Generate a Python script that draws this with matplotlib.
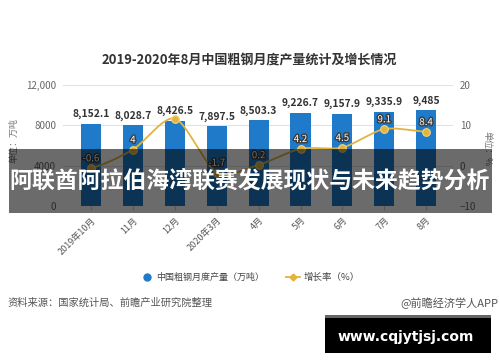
import numpy as np
import matplotlib
matplotlib.use("Agg")
import matplotlib.pyplot as plt
import matplotlib.patheffects as pe
from matplotlib.patches import Rectangle
from matplotlib.lines import Line2D

plt.rcParams['font.family'] = ['Noto Sans CJK SC', 'DejaVu Sans']

# 数据
months = ["2019年10月", "11月", "12月", "2020年3月", "4月", "5月", "6月", "7月", "8月"]
output = [8152.1, 8028.7, 8426.5, 7897.5, 8503.3, 9226.7, 9157.9, 9335.9, 9485]
growth = [-0.6, 4, 11.7, -1.7, 0.2, 4.2, 4.5, 9.1, 8.4]
# label of the 3rd point is covered by the bar label in the original
growth_shown = [True, True, False, True, True, True, True, True, True]

left_ticks = [0, 4000, 8000, 12000]
left_ticklabels = ["0", "4000", "8000", "12,000"]
right_ticks = [-10, 0, 10, 20]

bar_color = "#1f7bc9"
line_color = "#e3b33f"


def smooth(xs, ys, n=30):
    # Catmull-Rom Kurve durch die Punkte
    xs = np.asarray(xs, float)
    ys = np.asarray(ys, float)
    px = np.concatenate([[2 * xs[0] - xs[1]], xs, [2 * xs[-1] - xs[-2]]])
    py = np.concatenate([[ys[0]], ys, [ys[-1]]])
    out_x, out_y = [], []
    for i in range(1, len(px) - 2):
        t = np.linspace(0, 1, n)
        for arr, out in ((px, out_x), (py, out_y)):
            p0, p1, p2, p3 = arr[i - 1], arr[i], arr[i + 1], arr[i + 2]
            m1 = (p2 - p0) * 0.4
            m2 = (p3 - p1) * 0.4
            h00 = 2 * t**3 - 3 * t**2 + 1
            h10 = t**3 - 2 * t**2 + t
            h01 = -2 * t**3 + 3 * t**2
            h11 = t**3 - t**2
            out.extend(h00 * p1 + h10 * m1 + h01 * p2 + h11 * m2)
    return np.array(out_x), np.array(out_y)


fig = plt.figure(figsize=(5, 3.62), dpi=100)
fig.patch.set_facecolor("white")
ax = fig.add_axes([0.126, 0.431, 0.78, 0.334])
ax2 = ax.twinx()

x = np.arange(len(months))
ax.bar(x, output, width=0.48, color=bar_color, zorder=2)
ax.set_xlim(-0.67, 8.64)
ax.set_ylim(0, 12000)
ax.set_yticks(left_ticks)
ax.set_yticklabels(left_ticklabels)
ax.grid(axis="y", color="#e2e2e2", linewidth=0.8, zorder=0)
ax.set_axisbelow(True)
ax.set_xticks(x)
ax.set_xticklabels(months, rotation=45, ha="right", va="top", rotation_mode="anchor")
ax.tick_params(axis="x", length=3, color="#cccccc", labelsize=6.5, labelcolor="#555555", pad=4)
ax.tick_params(axis="y", length=0, labelsize=7, labelcolor="#666666", pad=5)
for s in ax.spines.values():
    s.set_visible(False)

ax2.set_ylim(-10, 20)
ax2.set_yticks(right_ticks)
ax2.tick_params(axis="y", length=0, labelsize=7, labelcolor="#666666", pad=5)
for s in ax2.spines.values():
    s.set_visible(False)

sx, sy = smooth(x, growth)
ax2.plot(sx, sy, color=line_color, linewidth=1.3, zorder=3)
ax2.plot(x, growth, "o", color=line_color, markersize=5.5,
         markeredgecolor="#f3d580", markeredgewidth=0.8, zorder=4)

stroke = [pe.withStroke(linewidth=2, foreground="#3a3a3a")]
for xi, g, show in zip(x, growth, growth_shown):
    if show:
        ax2.annotate(f"{g:g}", (xi, g), xytext=(0, 7), textcoords="offset points",
                     ha="center", va="center", fontsize=7, color="white",
                     path_effects=stroke, zorder=5)

for xi, v in zip(x, output):
    ax2.annotate(f"{v:,g}", (xi, v), xycoords=ax.transData, xytext=(0, 7),
                 textcoords="offset points", ha="center", va="center",
                 fontsize=7.4, color="#333333", fontweight="bold", zorder=6)

# Titel und Achsenbeschriftung
fig.text(0.498, 0.834, "2019-2020年8月中国粗钢月度产量统计及增长情况",
         ha="center", va="center", fontsize=9.4, fontweight="bold", color="#333333")
fig.text(0.028, 0.613, "单位：万吨", rotation=90, ha="center", va="center",
         fontsize=6.5, color="#777777")
fig.text(0.974, 0.59, "单位：%", rotation=270, ha="center", va="center",
         fontsize=6.5, color="#777777")

# Legende
fig.add_artist(Line2D([0.294], [0.235], marker="o", color=bar_color, markersize=5,
                      linestyle="none", transform=fig.transFigure))
fig.text(0.312, 0.235, "中国粗钢月度产量（万吨）", ha="left", va="center",
         fontsize=6.5, color="#444444")
fig.add_artist(Line2D([0.572, 0.600], [0.235, 0.235], color=line_color, linewidth=1.3,
                      transform=fig.transFigure))
fig.add_artist(Line2D([0.586], [0.235], marker="D", color=line_color, markersize=3.5,
                      linestyle="none", transform=fig.transFigure))
fig.text(0.608, 0.235, "增长率（%）", ha="left", va="center",
         fontsize=6.8, color="#444444")

# Quelle
fig.text(0.014, 0.163, "资料来源：国家统计局、前瞻产业研究院整理", ha="left", va="center",
         fontsize=7.4, color="#555555")
fig.text(0.996, 0.163, "@前瞻经济学人APP", ha="right", va="center",
         fontsize=8, color="#555555")

# Banner über dem Diagramm
fig.add_artist(Rectangle((0.018, 0.4116), 0.966, 0.1764, transform=fig.transFigure,
                         facecolor="black", alpha=0.58, edgecolor="none", zorder=10))
fig.text(0.5, 0.5, "阿联酋阿拉伯海湾联赛发展现状与未来趋势分析", ha="center", va="center",
         fontsize=16.5, fontweight="bold", color="white", zorder=11)

# Wasserzeichen-Box
fig.add_artist(Rectangle((0.65, 0.025), 0.332, 0.105, transform=fig.transFigure,
                         facecolor="black", edgecolor="none", zorder=10))
fig.add_artist(Rectangle((0.65, 0.122), 0.332, 0.008, transform=fig.transFigure,
                         facecolor="#666666", edgecolor="none", zorder=11))
fig.text(0.812, 0.069, "www.cqjytjsj.com", ha="center", va="center",
         fontsize=10, fontweight="bold", color="white", family="DejaVu Sans", zorder=12)

fig.savefig("out.png", dpi=100)
